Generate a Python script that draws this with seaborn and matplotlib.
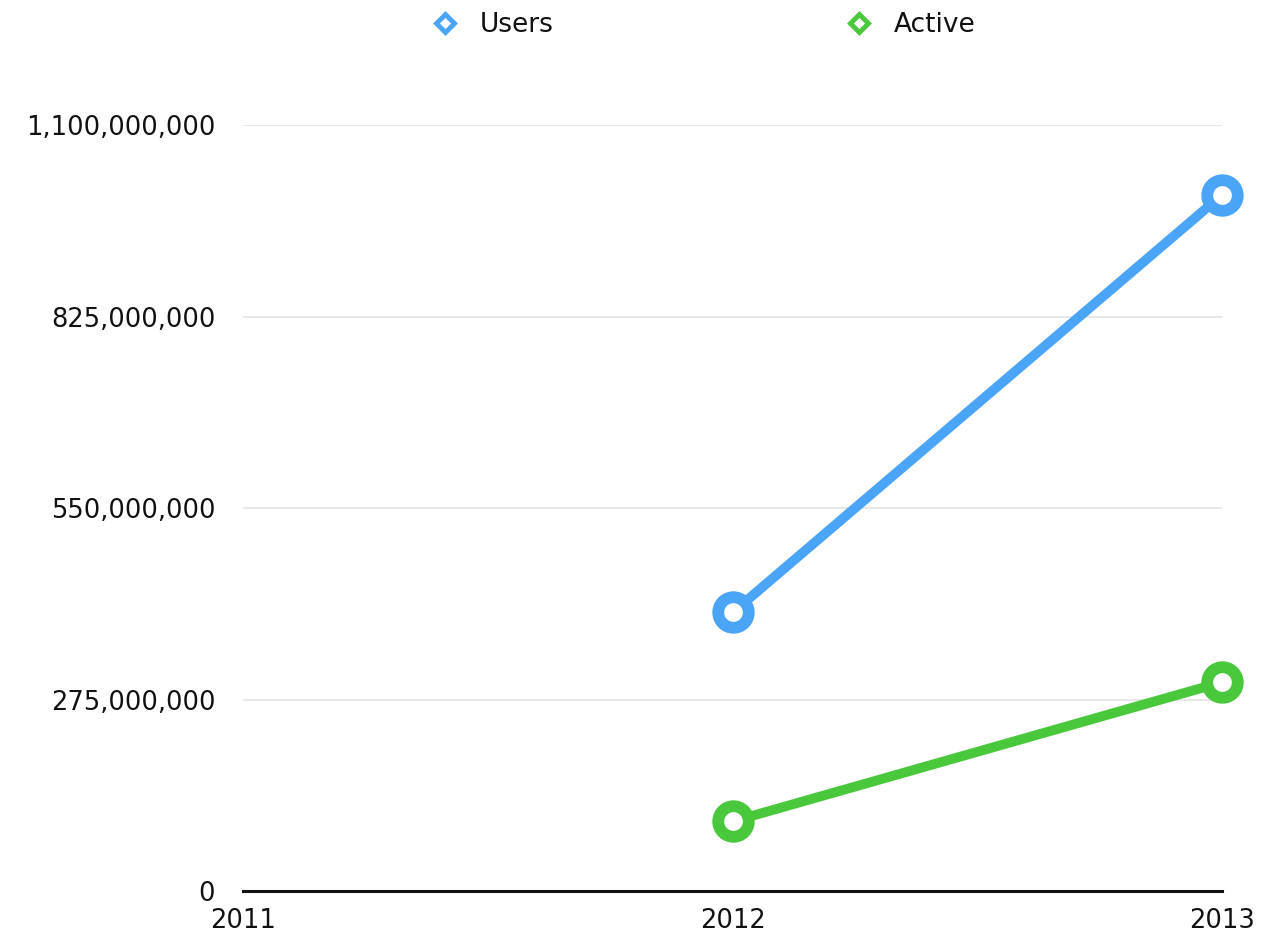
import matplotlib
matplotlib.use("Agg")
import matplotlib.pyplot as plt
from matplotlib.lines import Line2D
from matplotlib.ticker import FuncFormatter
import seaborn as sns
import pandas as pd

# Data
years = [2012, 2013]
users = [400_000_000, 1_000_000_000]
active = [100_000_000, 300_000_000]
series_names = ["Users", "Active"]
colors = {"Users": "#4aa5f8", "Active": "#48c83a"}
x_ticks = [2011, 2012, 2013]
y_ticks = [0, 275_000_000, 550_000_000, 825_000_000, 1_100_000_000]

df = pd.DataFrame({
    "year": years * 2,
    "value": users + active,
    "series": ["Users"] * len(years) + ["Active"] * len(years),
})

sns.set_theme(style="white")
plt.rcParams["font.family"] = ["DejaVu Sans"]
plt.rcParams["text.color"] = "#111111"

fig = plt.figure(figsize=(12.61, 9.43), dpi=100)
ax = fig.add_axes([0.1927, 0.0551, 0.7766, 0.8123])

sns.lineplot(data=df, x="year", y="value", hue="series", palette=colors,
             hue_order=series_names, linewidth=7, marker="o", markersize=22,
             markerfacecolor="white", markeredgewidth=8.5, legend=False, ax=ax,
             clip_on=False)
for ln in ax.lines:
    ln.set_clip_on(False)
    ln.set_markeredgecolor(ln.get_color())

ax.set_xlim(2011, 2013)
ax.set_ylim(0, 1_100_000_000)
ax.set_xticks(x_ticks)
ax.set_yticks(y_ticks)
ax.yaxis.set_major_formatter(FuncFormatter(lambda v, p: f"{int(v):,}"))
ax.set_xlabel("")
ax.set_ylabel("")
ax.grid(axis="y", color="#e8e8e8", linewidth=1.5)
ax.grid(axis="x", visible=False)
for gl in ax.get_ygridlines()[:1]:
    gl.set_visible(False)
for s in ["top", "right", "left"]:
    ax.spines[s].set_visible(False)
ax.spines["bottom"].set_color("#111111")
ax.spines["bottom"].set_linewidth(2.2)
ax.tick_params(axis="y", length=0, pad=20, labelsize=18.5, labelcolor="#111111")
ax.tick_params(axis="x", length=0, pad=12, labelsize=18.5, labelcolor="#111111")

handles = [Line2D([], [], linestyle="none", marker="D", markersize=9,
                  markerfacecolor="white", markeredgecolor=colors[n],
                  markeredgewidth=3.5, label=n) for n in series_names]
leg = fig.legend(handles=handles, loc="upper center", bbox_to_anchor=(0.557, 1.012),
                 ncol=2, frameon=False, fontsize=19, columnspacing=11,
                 handletextpad=0.7, handlelength=1.2)
for t in leg.get_texts():
    t.set_color("#111111")

fig.savefig("out.png", dpi=100)
